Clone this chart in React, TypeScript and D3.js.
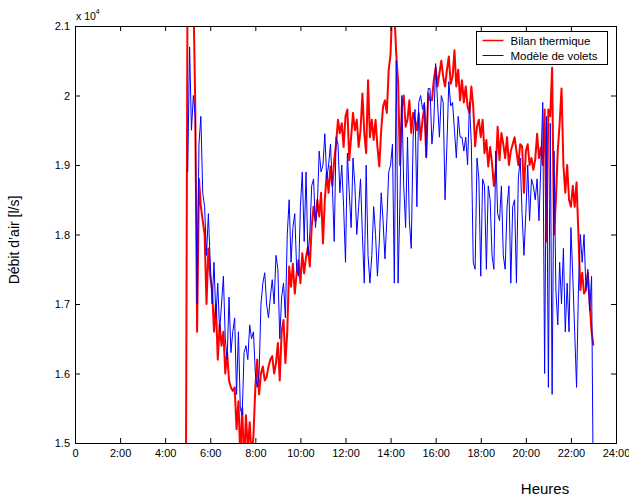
import { useEffect, useRef } from 'react';
import * as d3 from 'd3';

// samples every 5 minutes, values in l/s x 10^4
const stepHours = 5 / 60;
const bilanStart = 4 + 55 / 60;
const voletsStart = 5;

const bilanThermique = [
  1.40,
  2.25, 2.18, 2.22, 2.15, 1.99, 1.66, 1.88, 1.84, 1.82, 1.80, 1.70, 1.78,
  1.74, 1.72, 1.66, 1.70, 1.62, 1.67, 1.64, 1.66, 1.60, 1.63, 1.59, 1.58,
  1.575, 1.58, 1.52, 1.56, 1.48, 1.55, 1.47, 1.54, 1.49, 1.53, 1.48, 1.51,
  1.58, 1.62, 1.57, 1.60, 1.61, 1.59, 1.595, 1.61, 1.62, 1.625, 1.60, 1.615,
  1.644, 1.59, 1.66, 1.677, 1.615, 1.66, 1.754, 1.725, 1.758, 1.715, 1.744, 1.763,
  1.73, 1.773, 1.744, 1.768, 1.782, 1.754, 1.811, 1.84, 1.82, 1.85, 1.826, 1.86,
  1.787, 1.85, 1.888, 1.86, 1.898, 1.87, 1.907, 1.931, 1.965, 1.946, 1.96, 1.926,
  1.97, 1.98, 1.907, 1.94, 1.975, 1.95, 1.965, 1.926, 1.95, 2.003, 1.946, 1.917,
  2.022, 1.94, 1.965, 1.936, 1.965, 1.926, 1.898, 1.95, 1.984, 1.993, 1.975, 2.037,
  2.06, 2.14, 2.12, 2.06, 2.02, 1.90, 1.984, 2.0, 1.955, 1.965, 1.993, 1.946,
  1.975, 1.965, 1.95, 1.975, 1.936, 1.965, 1.984, 1.912, 2.003, 1.993, 1.993, 2.022,
  2.04, 2.013, 2.032, 2.05, 2.027, 2.013, 2.037, 2.056, 2.017, 2.027, 2.065, 2.013,
  2.037, 1.993, 2.022, 1.99, 2.013, 1.984, 1.975, 2.013, 1.984, 1.927, 1.955, 1.965,
  1.94, 1.965, 1.917, 1.936, 1.898, 1.926, 1.902, 1.87, 1.893, 1.955, 1.907, 1.946,
  1.93, 1.91, 1.94, 1.90, 1.92, 1.93, 1.94, 1.92, 1.90, 1.93, 1.927, 1.86,
  1.92, 1.93, 1.90, 1.91, 1.893, 1.908, 1.945, 1.91, 1.925, 1.90, 1.98, 1.79,
  1.98, 1.97, 2.04, 1.80, 1.85, 1.92, 1.96, 2.01, 1.90, 1.86, 1.90, 1.85,
  1.84, 1.87, 1.84, 1.875, 1.80, 1.72, 1.745, 1.715, 1.72, 1.745, 1.70, 1.66,
  1.64,
];

const modeleVolets = [
  1.89, 2.07, 1.95, 2.00, 1.97, 1.70, 1.93, 1.97, 1.86, 1.84, 1.77, 1.83,
  1.76, 1.70, 1.76, 1.68, 1.73, 1.66, 1.70, 1.74, 1.65, 1.62, 1.71, 1.63,
  1.66, 1.68, 1.57, 1.66, 1.55, 1.54, 1.63, 1.64, 1.62, 1.67, 1.65, 1.66,
  1.60, 1.58, 1.60, 1.70, 1.73, 1.745, 1.70, 1.68, 1.71, 1.735, 1.70, 1.77,
  1.75, 1.65, 1.71, 1.73, 1.68, 1.80, 1.85, 1.76, 1.81, 1.83, 1.75, 1.74,
  1.84, 1.89, 1.79, 1.89, 1.77, 1.80, 1.87, 1.88, 1.81, 1.84, 1.92, 1.89,
  1.90, 1.945, 1.88, 1.90, 1.93, 1.87, 1.79, 1.94, 1.93, 1.86, 1.90, 1.84,
  1.76, 1.917, 1.86, 1.81, 1.91, 1.87, 1.80, 1.84, 1.88, 1.80, 1.73, 1.90,
  1.77, 1.73, 1.77, 1.84, 1.80, 1.74, 1.79, 1.86, 1.82, 1.765, 1.82, 1.89,
  1.90, 1.93, 1.73, 2.05, 1.73, 1.85, 2.00, 1.87, 1.81, 1.94, 1.82, 1.78,
  1.94, 1.98, 1.84, 1.99, 2.00, 1.98, 1.99, 1.91, 2.01, 2.01, 1.93, 1.96,
  2.046, 1.99, 1.94, 2.00, 1.99, 1.85, 1.93, 2.02, 1.985, 1.99, 1.95, 1.91,
  1.97, 1.94, 1.94, 1.92, 1.94, 1.90, 1.99, 1.93, 1.76, 1.75, 1.91, 1.88,
  1.74, 1.88, 1.87, 1.75, 1.87, 1.85, 1.77, 1.75, 1.92, 1.83, 1.82, 1.87,
  1.77, 1.75, 1.84, 1.87, 1.73, 1.84, 1.85, 1.73, 1.88, 1.91, 1.83, 1.77,
  1.83, 1.90, 1.82, 1.88, 1.87, 1.85, 1.88, 1.82, 1.90, 1.99, 1.60, 1.97,
  1.58, 1.96, 1.57, 1.92, 1.72, 1.67, 1.76, 1.70, 1.78, 1.66, 1.73, 1.66,
  1.81, 1.74, 1.66, 1.58, 1.72, 1.80, 1.76, 1.80, 1.72, 1.75, 1.69, 1.74,
  1.40,
];

const hourTicks = [0, 2, 4, 6, 8, 10, 12, 14, 16, 18, 20, 22, 24];
const hourLabels = ['0', '2:00', '4:00', '6:00', '8:00', '10:00', '12:00', '14:00', '16:00', '18:00', '20:00', '22:00', '24:00'];
const flowTicks = [1.5, 1.6, 1.7, 1.8, 1.9, 2.0, 2.1];
const flowLabels = ['1.5', '1.6', '1.7', '1.8', '1.9', '2', '2.1'];
const seriesNames = ['Bilan thermique', 'Modèle de volets'];
const seriesColors = ['#ff0000', '#0000ff'];

export default function App() {
  const svgRef = useRef<SVGSVGElement>(null);

  useEffect(() => {
    const width = 629;
    const height = 497;
    const margin = { top: 26, right: 13, bottom: 54, left: 75 };
    const font = '"Liberation Sans", Arial, sans-serif';

    const svg = d3.select(svgRef.current);
    svg.selectAll('*').remove();
    svg.attr('width', width).attr('height', height);

    const x = d3.scaleLinear().domain([0, 24]).range([margin.left, width - margin.right]);
    const y = d3.scaleLinear().domain([1.5, 2.1]).range([height - margin.bottom, margin.top]);

    svg.append('rect').attr('width', width).attr('height', height).attr('fill', '#fff');

    svg.append('clipPath').attr('id', 'plot-clip')
      .append('rect')
      .attr('x', margin.left)
      .attr('y', margin.top)
      .attr('width', x(24) - x(0))
      .attr('height', y(1.5) - y(2.1));

    const series = [
      { values: bilanThermique, start: bilanStart, width: 2 },
      { values: modeleVolets, start: voletsStart, width: 1 },
    ];

    const lines = svg.append('g').attr('clip-path', 'url(#plot-clip)');
    series.forEach((s, k) => {
      const line = d3.line<number>()
        .x((d, i) => x(s.start + i * stepHours))
        .y(d => y(d));
      lines.append('path')
        .datum(s.values)
        .attr('fill', 'none')
        .attr('stroke', seriesColors[k])
        .attr('stroke-width', s.width)
        .attr('stroke-linejoin', 'round')
        .attr('d', line);
    });

    // axes, ticks pointing inward on all four sides
    const bottom = svg.append('g')
      .attr('transform', `translate(0,${y(1.5)})`)
      .call(d3.axisBottom(x).tickValues(hourTicks)
        .tickFormat((d, i) => hourLabels[i])
        .tickSizeInner(-5).tickSizeOuter(0).tickPadding(6));
    const left = svg.append('g')
      .attr('transform', `translate(${x(0)},0)`)
      .call(d3.axisLeft(y).tickValues(flowTicks)
        .tickFormat((d, i) => flowLabels[i])
        .tickSizeInner(-5).tickSizeOuter(0).tickPadding(5));
    svg.append('g')
      .attr('transform', `translate(0,${y(2.1)})`)
      .call(d3.axisTop(x).tickValues(hourTicks).tickFormat(() => '')
        .tickSizeInner(-5).tickSizeOuter(0));
    svg.append('g')
      .attr('transform', `translate(${x(24)},0)`)
      .call(d3.axisRight(y).tickValues(flowTicks).tickFormat(() => '')
        .tickSizeInner(-5).tickSizeOuter(0));

    svg.selectAll('.domain').remove();
    svg.selectAll('.tick line').attr('stroke', '#000');
    [bottom, left].forEach(g => g.selectAll('text')
      .attr('fill', '#000')
      .style('font-family', font)
      .style('font-size', '11px'));

    svg.append('rect')
      .attr('x', x(0) + 0.5)
      .attr('y', y(2.1) + 0.5)
      .attr('width', x(24) - x(0))
      .attr('height', y(1.5) - y(2.1))
      .attr('fill', 'none')
      .attr('stroke', '#000')
      .attr('stroke-width', 1);

    // exponent
    const expo = svg.append('text')
      .attr('x', 76)
      .attr('y', 20)
      .style('font-family', font)
      .style('font-size', '10.5px')
      .text('x 10');
    expo.append('tspan').attr('dy', -6).style('font-size', '7px').text('4');

    svg.append('text')
      .attr('transform', 'translate(19,240) rotate(-90)')
      .attr('text-anchor', 'middle')
      .style('font-family', font)
      .style('font-size', '14px')
      .text('Débit d’air [l/s]');

    svg.append('text')
      .attr('x', 545)
      .attr('y', 494)
      .attr('text-anchor', 'middle')
      .style('font-family', font)
      .style('font-size', '15px')
      .text('Heures');

    // legend
    const legend = svg.append('g').attr('transform', 'translate(476.5,31.5)');
    legend.append('rect')
      .attr('width', 131)
      .attr('height', 33)
      .attr('fill', '#fff')
      .attr('stroke', '#000');
    seriesNames.forEach((name, i) => {
      legend.append('line')
        .attr('x1', 6).attr('x2', 27)
        .attr('y1', 9 + i * 15).attr('y2', 9 + i * 15)
        .attr('stroke', seriesColors[i])
        .attr('stroke-width', i === 0 ? 1.5 : 1);
      legend.append('text')
        .attr('x', 34)
        .attr('y', 13 + i * 15)
        .style('font-family', font)
        .style('font-size', '11.5px')
        .text(name);
    });
  }, []);

  return (
    <svg ref={svgRef} style={{ position: 'absolute', left: 0, top: 0, display: 'block' }}></svg>
  );
}
